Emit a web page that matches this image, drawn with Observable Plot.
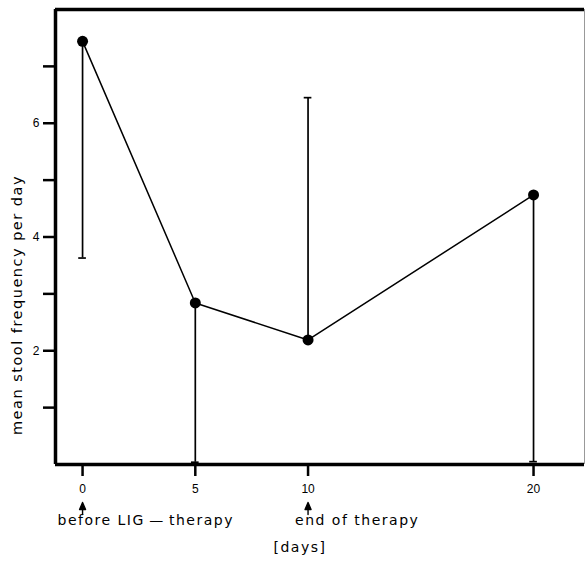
<!DOCTYPE html>
<html>
<head>
<meta charset="utf-8">
<script src="https://cdn.jsdelivr.net/npm/d3@7"></script>
<script src="https://cdn.jsdelivr.net/npm/@observablehq/plot@0.6"></script>
<style>
  html, body { margin: 0; padding: 0; background: #fff; }
  #chart { width: 585px; height: 562px; }
  svg g[aria-label="text"] text { letter-spacing: 1.5px; }
</style>
</head>
<body>
<div id="chart"></div>
<script>
// Data
const days = [0, 5, 10, 20];
const means = [7.44, 2.84, 2.19, 4.74];
const barEnds = [3.63, 0.04, 6.45, 0.05];   // end of the one-sided error bar
const yTicks = [1, 2, 3, 4, 5, 6, 7];
const yLabelled = [2, 4, 6];
const xTicks = [0, 5, 10, 20];
const annotations = [
  { day: 0, label: "before LIG\u2009\u2014\u2009therapy" },
  { day: 10, label: "end of therapy" }
];
const yLabel = "mean stool frequency per day";
const xLabel = "[days]";

const table = days.map((d, i) => ({ day: d, mean: means[i], end: barEnds[i] }));

const capHalf = 0.17;
const xDomain = [-1.2, 22.26];
const yDomain = [0, 8];
const labelFont = "'DejaVu Sans', 'Liberation Sans', sans-serif";

const arrowShape = {
  draw(context, l, r) {
    context.moveTo(0, 0);
    context.lineTo(0, -l + 5);
    context.moveTo(0, -l);
    context.lineTo(-3, -l + 7);
    context.lineTo(3, -l + 7);
    context.closePath();
  }
};

const chart = Plot.plot({
  width: 585,
  height: 562,
  marginLeft: 55,
  marginRight: 1,
  marginTop: 9,
  marginBottom: 98,
  style: { fontFamily: "'Liberation Sans', Arial, sans-serif", fontSize: "12px", color: "black", background: "white" },
  x: { domain: xDomain },
  y: { domain: yDomain },
  marks: [
    // frame
    Plot.ruleX([xDomain[1]], { stroke: "#999", strokeWidth: 1 }),
    Plot.ruleY([yDomain[1]], { strokeWidth: 3.5 }),
    Plot.ruleY([yDomain[0]], { strokeWidth: 3.5 }),
    Plot.ruleX([xDomain[0]], { strokeWidth: 3.5 }),
    // axes
    Plot.axisY({
      ticks: yTicks,
      tickSize: 12,
      tickPadding: 4,
      strokeWidth: 2.5,
      fontSize: 12,
      tickFormat: d => yLabelled.includes(d) ? d : "",
      label: null
    }),
    Plot.axisX({
      ticks: xTicks,
      tickSize: 12,
      tickPadding: 8,
      strokeWidth: 2.5,
      fontSize: 12,
      tickFormat: d => d,
      label: null
    }),
    // error bars
    Plot.ruleX(table, { x: "day", y1: "mean", y2: "end", strokeWidth: 1.7 }),
    Plot.ruleY(table, { y: "end", x1: d => d.day - capHalf, x2: d => d.day + capHalf, strokeWidth: 1.7 }),
    // line + points
    Plot.line(table, { x: "day", y: "mean", strokeWidth: 1.5 }),
    Plot.dot(table, { x: "day", y: "mean", r: 5.5, fill: "black", stroke: "none" }),
    // annotation arrows and labels
    Plot.vector(annotations, { x: "day", frameAnchor: "bottom", dy: 50, length: 12, anchor: "start", shape: arrowShape, stroke: "black", fill: "black", strokeWidth: 1.4 }),
    Plot.text([annotations[0]], { x: "day", frameAnchor: "bottom", dy: 60, text: "label", textAnchor: "start", dx: -25, fontSize: 14, fontFamily: labelFont }),
    Plot.text([annotations[1]], { x: "day", frameAnchor: "bottom", dy: 60, text: "label", textAnchor: "start", dx: -13, fontSize: 14, fontFamily: labelFont }),
    Plot.text([xLabel], { frameAnchor: "bottom", dy: 87, dx: -20, text: d => d, fontSize: 14, fontFamily: labelFont }),
    Plot.text([yLabel], { frameAnchor: "left", textAnchor: "middle", dx: -38, dy: 68, rotate: -90, text: d => d, fontSize: 14.5, fontFamily: labelFont })
  ]
});

document.getElementById("chart").appendChild(chart);
</script>
</body>
</html>
